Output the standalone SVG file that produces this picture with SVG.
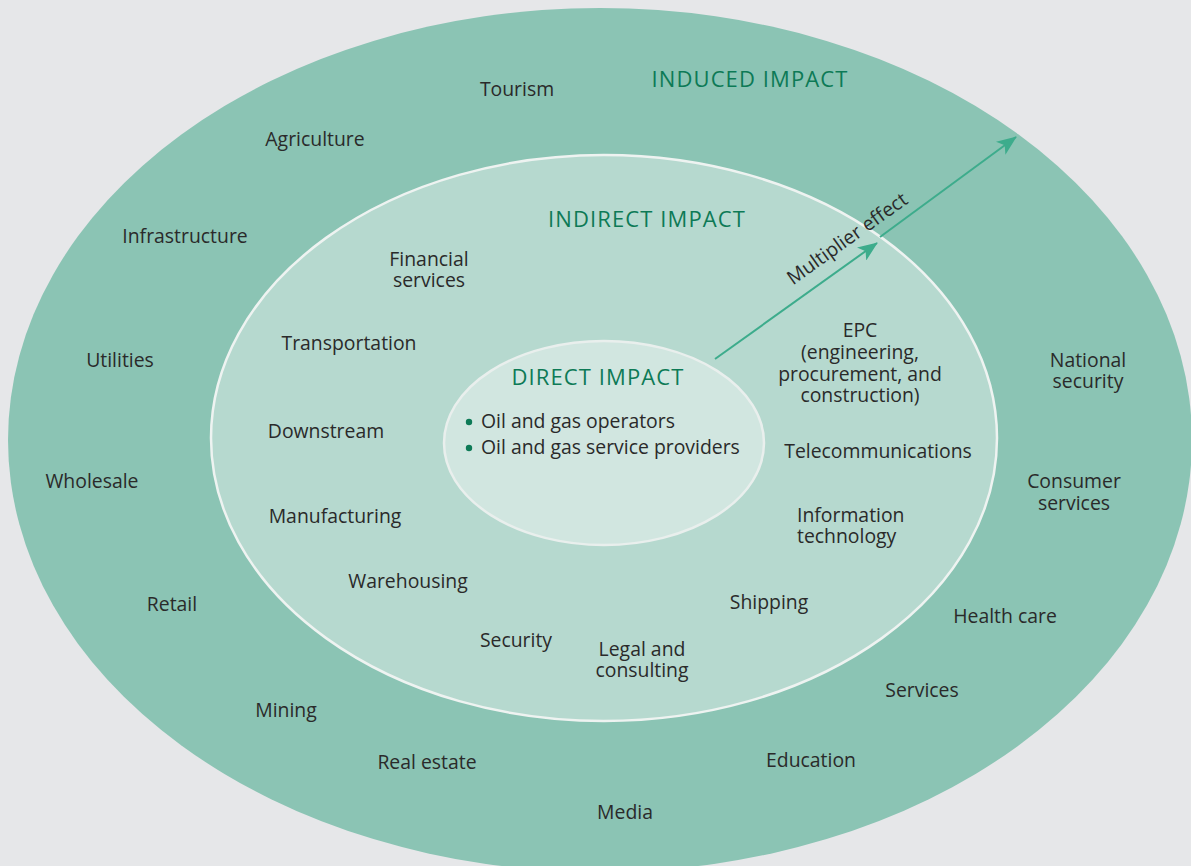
<svg xmlns="http://www.w3.org/2000/svg" width="1191" height="866" viewBox="0 0 1191 866">
<style>
  text { font-family: "Open Sans", "Noto Sans", "Liberation Sans", sans-serif; font-size: 19.4px; fill: #2a2a2a; text-anchor: middle; }
  .title { fill: #0d7a56; font-size: 22px; letter-spacing: 1.1px; }
  .start { text-anchor: start; }
  .ring-outer { fill: #8bc4b4; }
  .ring-mid { fill: #b6d9cf; stroke: #eef3f1; stroke-width: 2.5; }
  .ring-inner { fill: #d1e6e0; stroke: #e9efed; stroke-width: 2.5; }
  .arrow { stroke: #3dac8c; stroke-width: 2; fill: none; marker-end: url(#ah); }
</style>
<defs>
  <marker id="ah" viewBox="0 0 20 16" refX="19" refY="8" markerWidth="20" markerHeight="16" markerUnits="userSpaceOnUse" orient="auto">
    <path d="M0,0 L20,8 L0,16 L5,8 Z" fill="#3dac8c"/>
  </marker>
</defs>
<rect width="1191" height="866" fill="#e6e7e9"/>

<g id="induced">
  <ellipse class="ring-outer" cx="600" cy="440" rx="592" ry="432"/>
  <text class="title" x="750" y="87">INDUCED IMPACT</text>
  <text x="517" y="96">Tourism</text>
  <text x="315" y="146">Agriculture</text>
  <text x="185" y="243">Infrastructure</text>
  <text x="120" y="367">Utilities</text>
  <text x="92" y="488">Wholesale</text>
  <text x="172" y="611">Retail</text>
  <text x="286" y="717">Mining</text>
  <text x="427" y="769">Real estate</text>
  <text x="625" y="819">Media</text>
  <text x="811" y="767">Education</text>
  <text x="922" y="697">Services</text>
  <text x="1005" y="623">Health care</text>
  <text x="1074" y="488">Consumer<tspan x="1074" dy="22">services</tspan></text>
  <text x="1088" y="367">National<tspan x="1088" dy="21">security</tspan></text>
</g>

<g id="indirect">
  <ellipse class="ring-mid" cx="604" cy="438" rx="393" ry="283"/>
  <text class="title" x="647" y="227">INDIRECT IMPACT</text>
  <text x="429" y="266">Financial<tspan x="429" dy="21">services</tspan></text>
  <text x="349" y="350">Transportation</text>
  <text x="326" y="438">Downstream</text>
  <text x="335" y="523">Manufacturing</text>
  <text x="408" y="588">Warehousing</text>
  <text x="516" y="647">Security</text>
  <text x="642" y="656">Legal and<tspan x="642" dy="21">consulting</tspan></text>
  <text x="769" y="609">Shipping</text>
  <text class="start" x="797" y="522">Information<tspan x="797" dy="21">technology</tspan></text>
  <text x="878" y="458">Telecommunications</text>
  <text x="860" y="337">EPC<tspan x="860" dy="22">(engineering,</tspan><tspan x="860" dy="22">procurement, and</tspan><tspan x="860" dy="21">construction)</tspan></text>
</g>

<g id="direct">
  <ellipse class="ring-inner" cx="604" cy="443" rx="160" ry="102"/>
  <text class="title" x="598" y="385">DIRECT IMPACT</text>
  <circle cx="469" cy="422" r="3.2" fill="#0d7a56"/>
  <text class="start" x="481" y="428">Oil and gas operators</text>
  <circle cx="469" cy="448" r="3.2" fill="#0d7a56"/>
  <text class="start" x="481" y="454">Oil and gas service providers</text>
</g>

<g id="connectors">
  <line class="arrow" x1="715" y1="359" x2="877" y2="243"/>
  <line class="arrow" x1="880" y1="237" x2="1016" y2="137"/>
  <text x="851" y="244" transform="rotate(-35.5 851 244)">Multiplier effect</text>
</g>
</svg>
